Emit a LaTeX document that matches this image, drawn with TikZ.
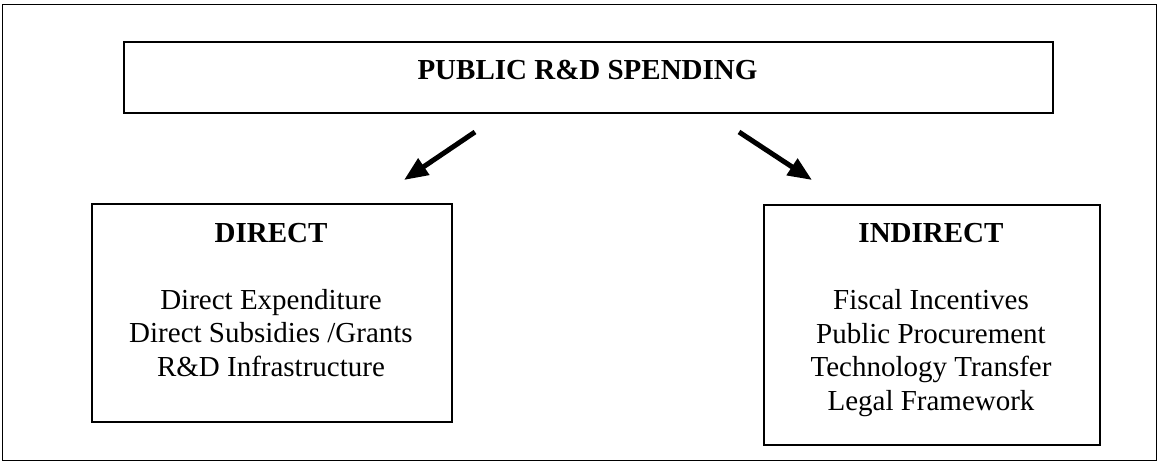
\documentclass[tikz,border=0pt]{standalone}
\usepackage{fontspec}
\setmainfont{Liberation Serif}
\usetikzlibrary{arrows.meta}
\begin{document}
\begin{tikzpicture}[x=1pt,y=-1pt,
  frame/.style={draw=black,line width=1.5pt},
  boxnode/.style={draw=black,line width=1.6pt,inner sep=0pt,anchor=north west},
  txt/.style={inner sep=0pt,align=center,font=\fontsize{29}{33.5}\selectfont,anchor=base},
  bigarrow/.style={line width=5pt,-{Triangle[length=24pt,width=19pt]}}
]
\useasboundingbox (0,0) rectangle (1157,461);
\node[frame,inner sep=0pt,anchor=north west,minimum width=1154pt,minimum height=456pt] (outer) at (1.5,3.5) {};
\node[boxnode,minimum width=929pt,minimum height=71pt] (top) at (123,41) {};
\node[txt] (toptxt) at (587.5,79) {\textbf{PUBLIC R\&D SPENDING}};
\node[boxnode,minimum width=360pt,minimum height=218pt] (direct) at (91,203) {};
\node[txt] (directtxt) at (271,376) {\textbf{DIRECT}\\[33.5pt]Direct Expenditure\\Direct Subsidies /Grants\\R\&D Infrastructure};
\node[boxnode,minimum width=336pt,minimum height=240pt] (indirect) at (763,204) {};
\node[txt] (indirecttxt) at (931,410) {\textbf{INDIRECT}\\[33.5pt]Fiscal Incentives\\Public Procurement\\Technology Transfer\\Legal Framework};
\coordinate (la) at (475,132);
\coordinate (lb) at (404,180);
\coordinate (ra) at (739,132);
\coordinate (rb) at (812,180);
\draw[bigarrow] (la) -- (lb);
\draw[bigarrow] (ra) -- (rb);
\end{tikzpicture}
\end{document}
